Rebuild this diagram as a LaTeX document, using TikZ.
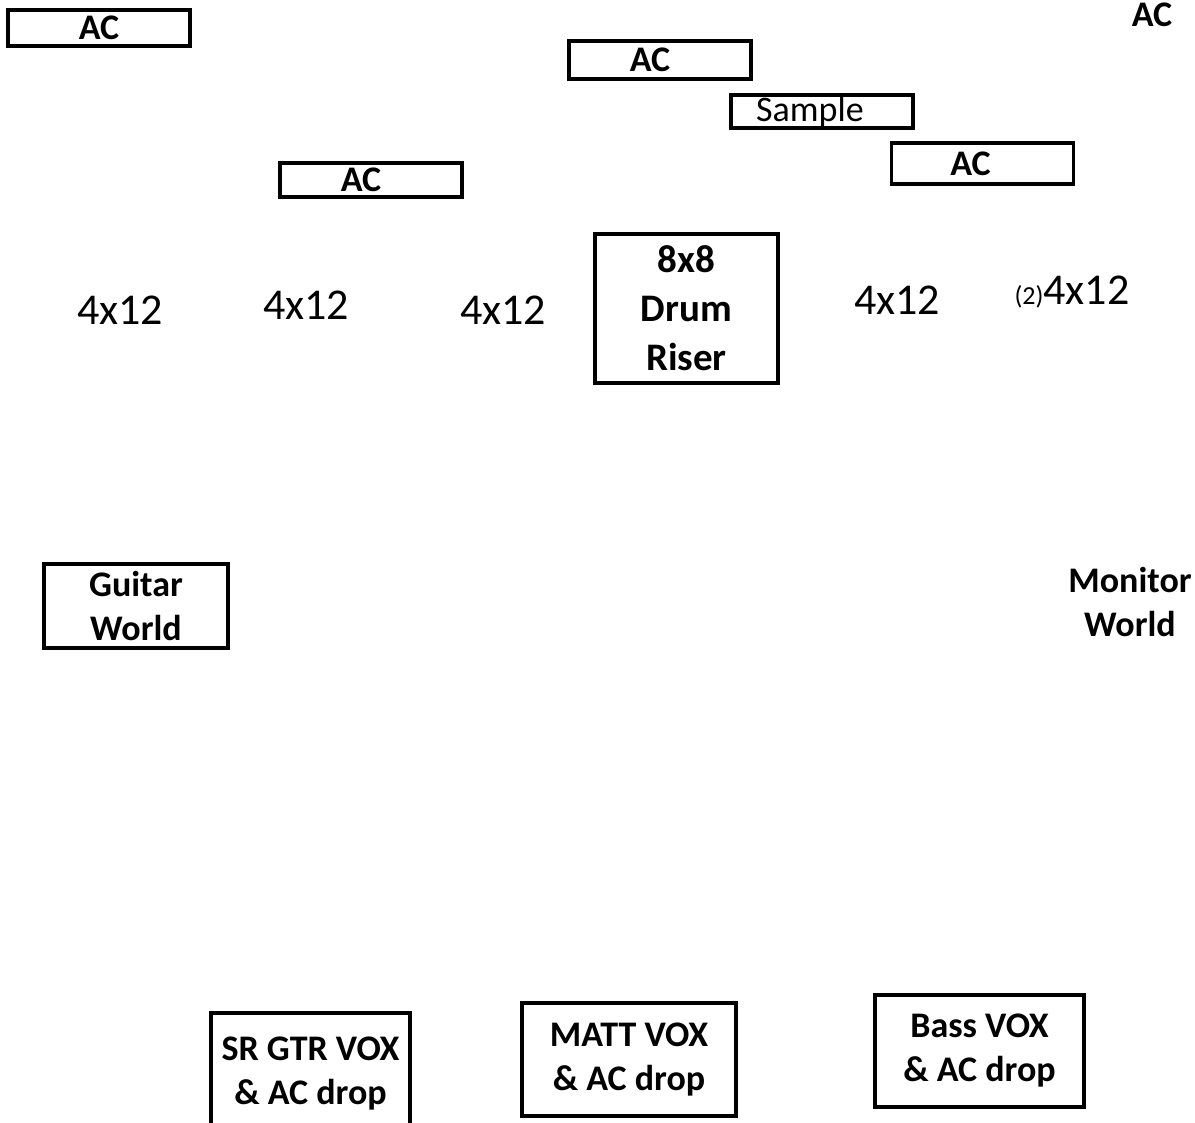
\documentclass[tikz,border=0pt]{standalone}
\usepackage{fontspec}
\setmainfont{Carlito}
\usetikzlibrary{positioning, shadows}

\tikzset{
  boxed/.style={draw, line width=1.6pt, fill=white, inner sep=0pt, align=center,
    drop shadow={shadow xshift=0.8pt, shadow yshift=-0.8pt, fill=gray!60, opacity=1}},
  acbox/.style={boxed, minimum width=91pt, font=\fontsize{18}{20}\selectfont\bfseries},
  bigbox/.style={boxed, font=\fontsize{18}{22}\selectfont\bfseries},
  cab/.style={font=\fontsize{22}{24}\selectfont},
}

\begin{document}
\begin{tikzpicture}[x=0.5pt, y=-0.5pt]
		\useasboundingbox (0,0) rectangle (1195,1123);
		
		% power drops and sample pad along the back
		\node (ac1) [acbox, minimum height=18pt] at (99,28) {\raisebox{-1.2pt}{AC}};
		\node (ac2) [acbox, minimum height=19pt] at (660,60) {\hspace*{-10pt}\raisebox{-1pt}{AC}};
		\node (sample) [acbox, minimum height=16.5pt, font=\fontsize{18}{20}\selectfont] at (822,111.5) {\hspace*{-12pt}Sample};
		\node (ac3) [acbox, minimum height=20.5pt] at (982.5,163.5) {\hspace*{-12pt}\raisebox{-1.5pt}{AC}};
		\node (ac4) [acbox, minimum height=17pt] at (371,180) {\hspace*{-10pt}\raisebox{-1pt}{AC}};
		\node (acR) [font=\fontsize{18}{20}\selectfont\bfseries] at (1152,15) {AC};
		
		% backline
		\node (riser) [bigbox, minimum width=91.5pt, minimum height=74.5pt,
		  font=\fontsize{19.5}{24.5}\selectfont\bfseries] at (686.5,308.5) {8x8\\Drum\\Riser};
		\node (cab1) [cab] at (120,310) {4x12};
		\node (cab2) [cab] at (306,305) {4x12};
		\node (cab3) [cab] at (503,310) {4x12};
		\node (cab4) [cab] at (897,300) {4x12};
		\node (cab5) [cab] at (1072,292) {{\fontsize{13}{15}\selectfont(2)}4x12};
		
		% side worlds
		\node (gtrworld) [bigbox, minimum width=92pt, minimum height=42pt] at (136,606) {Guitar\\World};
		\node (monworld) [font=\fontsize{18}{22}\selectfont\bfseries, align=center] at (1130,602) {Monitor\\World};
		
		% vocal positions
		\node (srgtr) [bigbox, minimum width=99.5pt, minimum height=61pt] at (310.5,1074) {SR GTR VOX\\\& AC drop};
		\node (matt) [bigbox, minimum width=107pt, minimum height=56.5pt] at (629,1059.5) {MATT VOX\\\& AC drop};
		\node (bass) [bigbox, minimum width=104.5pt, minimum height=56pt] at (979.5,1051) {Bass VOX\\\& AC drop};
		
\end{tikzpicture}
\end{document}
